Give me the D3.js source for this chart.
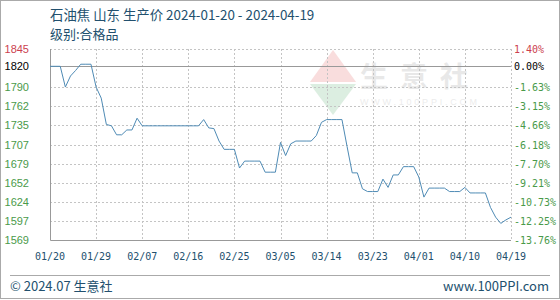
<!DOCTYPE html>
<html>
<head>
<meta charset="utf-8">
<script src="https://cdn.jsdelivr.net/npm/d3@7"></script>
<style>
body { margin: 0; background: #fff; }
</style>
</head>
<body>
<div id="chart"></div>
<script>
// daily prices 2024-01-20 .. 2024-04-19
var startDay = "2024-01-20";
var prices = [1820,1820,1820,1790,1806,1814,1823,1823,1823,1790,
    1774,1736,1734,1721,1721,1728,1728,1745,1734,1734,
    1734,1734,1734,1734,1734,1734,1734,1734,1734,1734,
    1743,1731,1730,1712,1700,1700,1700,1673,1683,1683,
    1683,1683,1667,1667,1667,1710,1691,1708,1712,1712,
    1712,1712,1720,1739,1743,1743,1743,1743,1704,1666,
    1666,1643,1639,1639,1639,1657,1645,1663,1663,1675,
    1675,1675,1660,1631,1644,1644,1644,1644,1639,1639,
    1639,1645,1637,1637,1637,1637,1616,1602,1593,1598,1602];
var basePrice = 1820;
var xLabels = ["01/20","01/29","02/07","02/16","02/25","03/05","03/14","03/23","04/01","04/10","04/19"];
var yLabels = ["1845","1820","1790","1762","1735","1707","1679","1652","1624","1597","1569"];
var pctLabels = ["1.40%","0.00%","-1.63%","-3.15%","-4.66%","-6.18%","-7.70%","-9.21%","-10.73%","-12.25%","-13.76%"];
var title = "石油焦 山东 生产价 2024-01-20 - 2024-04-19";
var subtitle = "级别:合格品";

var color_up = "#cc3f4f";
var color_base = "#000";
var color_down = "#4a9a4a";
var color_text = "#22506e";
var color_line = "#4f8bb5";

var width = 560, height = 300;
var plot = {left: 50, right: 511, top: 49, bottom: 240};

var svg = d3.select("#chart").append("svg")
    .attr("width", width)
    .attr("height", height);

//outer frame
svg.append("rect")
    .attr("x", 0.5).attr("y", 0.5)
    .attr("width", width - 1).attr("height", height - 2)
    .attr("fill", "none").attr("stroke", "#aaa");

var parseDay = d3.timeParse("%Y-%m-%d");
var start = parseDay(startDay);
var dates = prices.map((p, i) => d3.timeDay.offset(start, i));
var tickDates = xLabels.map(l => d3.timeParse("%Y/%m/%d")("2024/" + l));

var x = d3.scaleTime()
    .domain([start, dates[dates.length - 1]])
    .range([plot.left, plot.right]);
var y = d3.scaleLinear()
    .domain([+yLabels[yLabels.length - 1], +yLabels[0]])
    .range([plot.bottom, plot.top]);

//watermark
var wm = svg.append("g").attr("opacity", 0.16);
wm.append("path")
    .attr("d", "M333,50 L356,82 L310,82 Z")
    .attr("fill", "#e03030");
wm.append("path")
    .attr("d", "M310,84 L356,84 L333,115 Z")
    .attr("fill", "#2f9a4a");
wm.append("text")
    .attr("x", 360).attr("y", 87)
    .attr("font-family", "Noto Sans CJK SC")
    .attr("font-weight", "bold")
    .attr("font-size", 28)
    .attr("letter-spacing", 12)
    .attr("fill", "#777")
    .text("生意社");
wm.append("text")
    .attr("x", 360).attr("y", 105)
    .attr("font-family", "Liberation Sans")
    .attr("font-size", 9)
    .attr("letter-spacing", 2.8)
    .attr("fill", "#888")
    .text("WWW.100PPI.COM");

//grid
var grid = svg.append("g");
grid.selectAll("line.h")
    .data(yLabels.slice(0, yLabels.length - 1).filter(v => +v != basePrice))
    .enter().append("line")
    .attr("x1", plot.left).attr("x2", plot.right)
    .attr("y1", d => Math.round(y(+d)) + 0.5)
    .attr("y2", d => Math.round(y(+d)) + 0.5)
    .attr("stroke", "#c4c4c4")
    .attr("stroke-dasharray", "2,2");
grid.selectAll("line.v")
    .data(tickDates.slice(1))
    .enter().append("line")
    .attr("x1", d => Math.round(x(d)) + 0.5)
    .attr("x2", d => Math.round(x(d)) + 0.5)
    .attr("y1", plot.top).attr("y2", plot.bottom)
    .attr("stroke", "#c4c4c4")
    .attr("stroke-dasharray", "2,2");

//base line
svg.append("line")
    .attr("x1", plot.left).attr("x2", plot.right)
    .attr("y1", Math.round(y(basePrice)) + 0.5)
    .attr("y2", Math.round(y(basePrice)) + 0.5)
    .attr("stroke", "#999");

//left & bottom border
svg.append("path")
    .attr("d", "M" + (plot.left + 0.5) + "," + plot.top + "V" + (plot.bottom + 0.5) + "H" + plot.right)
    .attr("fill", "none")
    .attr("stroke", "#999");

//price line
var line = d3.line()
    .x((d, i) => x(dates[i]))
    .y(d => y(d));
svg.append("path")
    .datum(prices)
    .attr("d", line)
    .attr("fill", "none")
    .attr("stroke", color_line)
    .attr("stroke-width", 1);

function labelColor(i){
    if(i == 0) return color_up;
    if(i == 1) return color_base;
    return color_down;
}

//left axis labels
svg.selectAll("text.yl")
    .data(yLabels)
    .enter().append("text")
    .attr("x", 29)
    .attr("y", d => y(+d) + 4)
    .attr("text-anchor", "end")
    .attr("font-family", "Liberation Sans")
    .attr("font-size", 11)
    .attr("fill", (d, i) => labelColor(i))
    .text(d => d);

//right axis labels
svg.selectAll("text.pl")
    .data(pctLabels)
    .enter().append("text")
    .attr("x", 514)
    .attr("y", (d, i) => y(+yLabels[i]) + 4)
    .attr("font-family", "DejaVu Sans Mono")
    .attr("font-size", 10)
    .attr("fill", (d, i) => labelColor(i))
    .text(d => d);

//x labels
svg.selectAll("text.xl")
    .data(xLabels)
    .enter().append("text")
    .attr("x", (d, i) => x(tickDates[i]))
    .attr("y", 260)
    .attr("text-anchor", "middle")
    .attr("font-family", "DejaVu Sans Mono")
    .attr("font-size", 10)
    .attr("fill", color_text)
    .text(d => d);

//titles
svg.append("text")
    .attr("x", 50).attr("y", 20)
    .attr("font-family", "Noto Sans CJK SC")
    .attr("font-size", 13.4)
    .attr("fill", color_text)
    .text(title);
svg.append("text")
    .attr("x", 50).attr("y", 39)
    .attr("font-family", "Noto Sans CJK SC")
    .attr("font-size", 13)
    .attr("fill", color_text)
    .text(subtitle);

//footer
svg.append("line")
    .attr("x1", 10).attr("x2", 550)
    .attr("y1", 275.5).attr("y2", 275.5)
    .attr("stroke", "#aaa");
svg.append("text")
    .attr("x", 10).attr("y", 291)
    .attr("font-family", "Noto Sans CJK SC")
    .attr("font-size", 13)
    .attr("fill", color_text)
    .text("© 2024.07 生意社");
svg.append("text")
    .attr("x", 549).attr("y", 291)
    .attr("text-anchor", "end")
    .attr("font-family", "Noto Sans CJK SC")
    .attr("font-size", 13)
    .attr("fill", color_text)
    .text("www.100PPI.com");
</script>
</body>
</html>
